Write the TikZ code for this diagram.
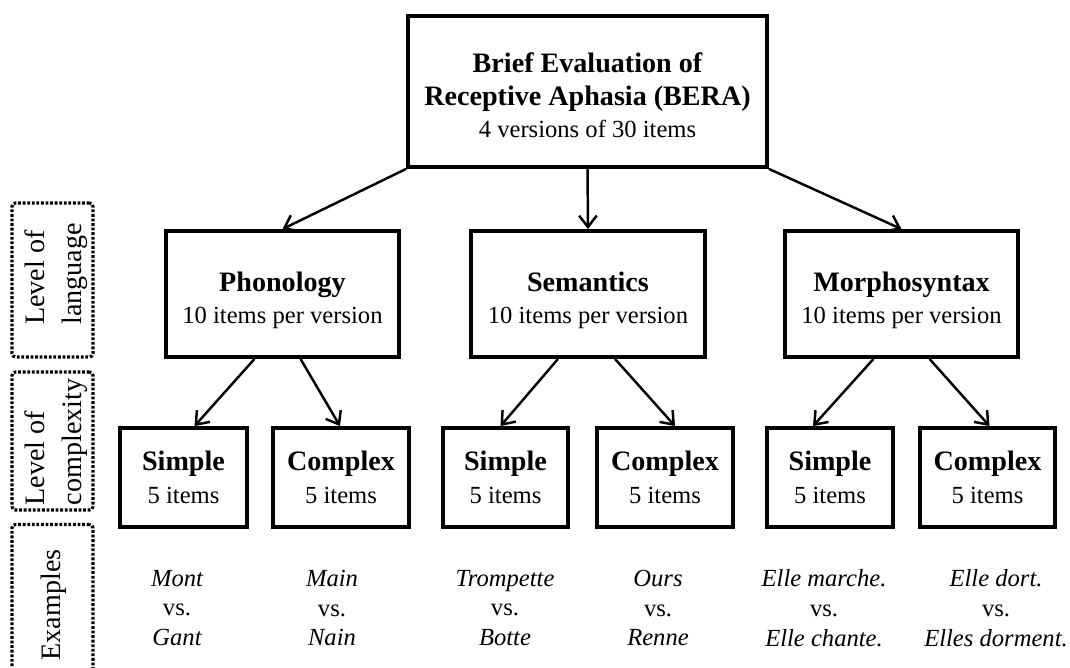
\documentclass[tikz,border=0pt]{standalone}
\usepackage{fontspec}
\setmainfont{Liberation Serif}
\usetikzlibrary{arrows.meta,positioning,calc}
\newcommand{\boxhead}[1]{{\fontsize{16}{19}\selectfont\bfseries #1}}
\tikzset{
  box/.style={draw,line width=2.2pt,align=center,inner sep=2pt,font=\fontsize{14}{19}\selectfont},
  levelbox/.style={draw,line width=1.8pt,dash pattern=on 1.6pt off 1pt,rounded corners=2pt,
    minimum width=1.62cm},
  leveltext/.style={rotate=90,align=left,font=\fontsize{16}{21}\selectfont},
  example/.style={align=center,font=\fontsize{14}{17}\selectfont\itshape},
  every edge/.style={draw,line width=1.4pt,-{Straight Barb[length=6.5pt,width=10pt]}}
}

\begin{document}
\begin{tikzpicture}[x=0.02cm,y=-0.02cm]
  \useasboundingbox (0,0) rectangle (1070,668);

  % tree
  \node[box,minimum width=7.18cm,minimum height=3.02cm] (bera) at (587.5,91.5)
    {\rule{0pt}{15pt}\boxhead{Brief Evaluation of}\\\boxhead{Receptive Aphasia (BERA)}\\[-1pt]4 versions of 30 items};

  \node[box,minimum width=4.66cm,minimum height=2.52cm] (phon) at (282.5,294) {\rule{0pt}{18pt}\boxhead{Phonology}\\[-1pt]10 items per version};
  \node[box,minimum width=4.68cm,minimum height=2.52cm] (sem) at (588,294) {\rule{0pt}{18pt}\boxhead{Semantics}\\[-1pt]10 items per version};
  \node[box,minimum width=4.66cm,minimum height=2.52cm] (morph) at (901.5,294) {\rule{0pt}{18pt}\boxhead{Morphosyntax}\\[-1pt]10 items per version};

  \node[box,minimum width=2.54cm,minimum height=1.98cm] (simp1) at (183.5,477.5) {\boxhead{Simple}\\5 items};
  \node[box,minimum width=2.72cm,minimum height=1.98cm] (comp1) at (341,477.5) {\boxhead{Complex}\\5 items};
  \node[box,minimum width=2.50cm,minimum height=1.98cm] (simp2) at (505.5,477.5) {\boxhead{Simple}\\5 items};
  \node[box,minimum width=2.72cm,minimum height=1.98cm] (comp2) at (665,477.5) {\boxhead{Complex}\\5 items};
  \node[box,minimum width=2.52cm,minimum height=1.98cm] (simp3) at (830,477.5) {\boxhead{Simple}\\5 items};
  \node[box,minimum width=2.70cm,minimum height=1.98cm] (comp3) at (987.5,477.5) {\boxhead{Complex}\\5 items};

  \path
    (bera.south west) edge (phon.north)
    (bera.south) edge (sem.north)
    (bera.south east) edge (morph.north)
    ($(phon.south)+(-28,0)$) edge ($(simp1.north)+(11,0)$)
    ($(phon.south)+(18,0)$) edge ($(comp1.north)+(-1,0)$)
    ($(sem.south)+(-30,0)$) edge ($(simp2.north)+(-5,0)$)
    ($(sem.south)+(27,0)$) edge ($(comp2.north)+(10,0)$)
    ($(morph.south)+(-28,0)$) edge ($(simp3.north)+(-17,0)$)
    ($(morph.south)+(28,0)$) edge ($(comp3.north)+(2,0)$);

  % examples
  \node[example] (ex1) at (177,608) {Mont\\\upshape vs.\\Gant};
  \node[example] (ex2) at (332,608) {Main\\\upshape vs.\\Nain};
  \node[example] (ex3) at (505,608) {Trompette\\\upshape vs.\\Botte};
  \node[example] (ex4) at (658,608) {Ours\\\upshape vs.\\Renne};
  \node[example] (ex5) at (824,608) {Elle marche.\\\upshape vs.\\Elle chante.};
  \node[example] (ex6) at (996,608) {Elle dort.\\\upshape vs.\\Elles dorment.};

  % level labels
  \node[levelbox,minimum height=3.08cm] (lang) at (52.5,280) {};
  \node[leveltext] (langtxt) at (56,274) {Level of\\language};
  \node[levelbox,minimum height=2.76cm] (cplx) at (52.5,441) {};
  \node[leveltext] (cplxtxt) at (56,442) {Level of\\complexity};
  \node[levelbox,minimum height=3.3cm] (exs) at (52.5,607) {};
  \node[leveltext] (exstxt) at (54,605) {Examples};
\end{tikzpicture}
\end{document}
